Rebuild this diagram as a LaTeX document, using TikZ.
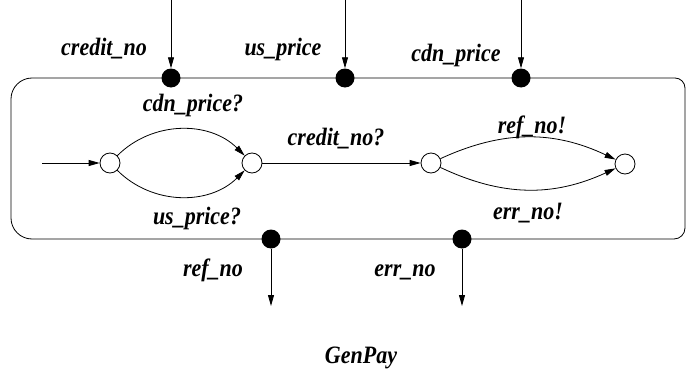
\documentclass[tikz,border=0pt]{standalone}
\usepackage{fontspec}
\newfontfamily\lbfont{Liberation Serif}[FakeStretch=0.88]
\usetikzlibrary{arrows.meta}
\begin{document}
\begin{tikzpicture}[x=1pt,y=-1pt,
  line/.style={line width=0.8pt},
  arr/.style={line width=0.8pt,-{Triangle[length=11pt,width=6pt]}},
  state/.style={draw,line width=0.8pt,circle,minimum size=20pt,inner sep=0pt},
  port/.style={fill=black,circle,minimum size=19pt,inner sep=0pt},
  lbl/.style={inner sep=0pt,anchor=base,font=\lbfont\fontsize{25}{27}\selectfont\bfseries\itshape}]
\useasboundingbox (0,0) rectangle (686,372);
% box
\draw[line] (32,78) -- (675,78) arc[start angle=270,end angle=360,radius=10] -- (685,228)
  arc[start angle=0,end angle=90,radius=11] -- (32,239) arc[start angle=90,end angle=180,radius=21]
  -- (11,99) arc[start angle=180,end angle=270,radius=21] -- cycle;
% ports
\node[port] (pc) at (171,78) {};
\node[port] (pu) at (345,78) {};
\node[port] (pd) at (521,78) {};
\node[port] (pr) at (271,239) {};
\node[port] (pe) at (462,239) {};
\coordinate (tc) at (171,0);
\coordinate (tu) at (345,0);
\coordinate (td) at (521,0);
\coordinate (br) at (271,306);
\coordinate (be) at (462,306);
\draw[arr] (tc) -- (pc);
\draw[arr] (tu) -- (pu);
\draw[arr] (td) -- (pd);
\draw[arr] (pr) -- (br);
\draw[arr] (pe) -- (be);
\node[lbl] (lc) at (104,56) {credit\_no};
\node[lbl] (lu) at (283,56) {us\_price};
\node[lbl] (ld) at (456,61) {cdn\_price};
\node[lbl] (lr) at (213,276) {ref\_no};
\node[lbl] (le) at (405,276) {err\_no};
\node[lbl] (title) at (361,363) {GenPay};
% states
\node[state] (s0) at (110,163) {};
\node[state] (s1) at (252,163) {};
\node[state] (s2) at (431,163) {};
\node[state] (s3) at (625,164) {};
\coordinate (init) at (42,163);
\draw[arr] (init) -- (s0);
\draw[arr] (s0) to[bend left=45] (s1);
\draw[arr] (s0) to[bend right=45] (s1);
\draw[arr] (s1) -- (s2);
\draw[arr] (s2) to[bend left=25] (s3);
\draw[arr] (s2) to[bend right=25] (s3);
\node[lbl] (e1) at (193,111) {cdn\_price?};
\node[lbl] (e2) at (197,224) {us\_price?};
\node[lbl] (e3) at (336,145) {credit\_no?};
\node[lbl] (e4) at (532,133) {ref\_no!};
\node[lbl] (e5) at (528,219) {err\_no!};
\end{tikzpicture}
\end{document}
